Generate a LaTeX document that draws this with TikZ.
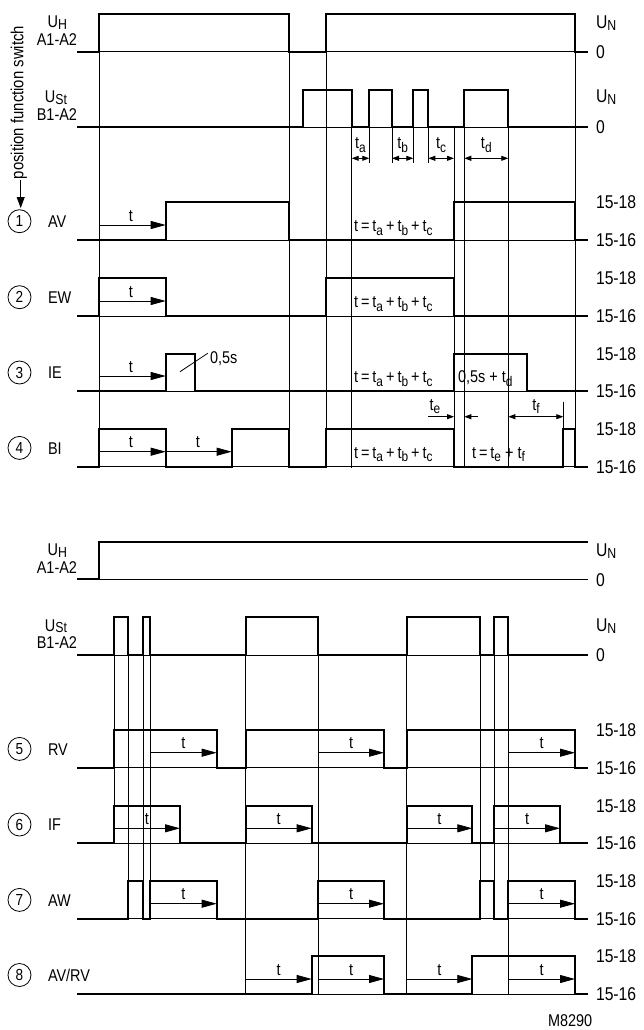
\documentclass[tikz,border=0pt]{standalone}
\usepackage{fontspec}
\setmainfont[FakeStretch=0.85]{Liberation Sans}
\usetikzlibrary{arrows.meta}
\newcommand\sbs[1]{\raisebox{-0.4ex}{\fontsize{14}{14}\selectfont #1}}
\newcommand\usb[1]{\raisebox{-0.2ex}{\fontsize{14.5}{14.5}\selectfont #1}}
\newcommand\tsum{t\hspace{3pt}=\hspace{3pt}t\sbs{a}\hspace{3pt}+\hspace{3pt}t\sbs{b}\hspace{3pt}+\hspace{3pt}t\sbs{c}}
\begin{document}
\begin{tikzpicture}[x=1pt,y=-1pt,
  every node/.style={inner sep=0pt, outer sep=0pt},
  sig/.style={line width=2pt, line join=miter},
  thn/.style={line width=0.8pt},
  tarr/.style={thn, -{Triangle[length=15pt,width=8pt]}},
  dimarr/.style={thn, {Triangle[length=7pt,width=5pt]}-{Triangle[length=7pt,width=5pt]}},
  sarr/.style={thn, -{Triangle[length=7pt,width=5pt]}},
  lab/.style={font=\fontsize{17}{17}\selectfont},
  rlab/.style={font=\fontsize{18.5}{18.5}\selectfont, anchor=base west},
  llab/.style={font=\fontsize{17}{17}\selectfont, anchor=base east},
  rowlab/.style={font=\fontsize{17}{17}\selectfont, anchor=base west},
  num/.style={draw, circle, line width=0.8pt, minimum size=23pt, font=\fontsize{16}{16}\selectfont},
  tl/.style={font=\fontsize{17}{17}\selectfont, anchor=base},
]
\useasboundingbox (0,0) rectangle (644,1030);

% ---------------- TOP SECTION ----------------
\foreach \x in {99.3,289.3,326,575} \draw[thn] (\x,51.7) -- (\x,468);
\foreach \x in {351.7,454,464.3,508.3} \draw[thn] (\x,127) -- (\x,468);
\foreach \x in {369.3,392,413.3,428.3} \draw[thn] (\x,127) -- (\x,163);
\draw[thn] (563.3,401.7) -- (563.3,429);

\foreach \y in {51.7,127,240,316,391,466.7} \draw[thn] (77,\y) -- (588,\y);

\draw[sig] (77,51.7) -- (99.3,51.7) -- (99.3,14.3) -- (289.3,14.3) -- (289.3,51.7) -- (326,51.7) -- (326,14.3) -- (575,14.3) -- (575,51.7) -- (588,51.7);
\draw[sig] (77,127) -- (303.3,127) -- (303.3,90) -- (351.7,90) -- (351.7,127) -- (369.3,127) -- (369.3,90) -- (392,90) -- (392,127) -- (413.3,127) -- (413.3,90) -- (428.3,90) -- (428.3,127) -- (464.3,127) -- (464.3,90) -- (508.3,90) -- (508.3,127) -- (588,127);
\draw[sig] (77,240) -- (165.7,240) -- (165.7,202.3) -- (289.3,202.3) -- (289.3,240) -- (454,240) -- (454,202.3) -- (575,202.3) -- (575,240) -- (588,240);
\draw[sig] (77,316) -- (99.3,316) -- (99.3,278.3) -- (165.7,278.3) -- (165.7,316) -- (326,316) -- (326,278.3) -- (454,278.3) -- (454,316) -- (588,316);
\draw[sig] (77,391) -- (165.7,391) -- (165.7,354) -- (195,354) -- (195,391) -- (454,391) -- (454,354) -- (526.7,354) -- (526.7,391) -- (588,391);
\draw[sig] (77,466.7) -- (99.3,466.7) -- (99.3,429) -- (165.7,429) -- (165.7,466.7) -- (231.7,466.7) -- (231.7,429) -- (289.3,429) -- (289.3,466.7) -- (326,466.7) -- (326,429) -- (454,429) -- (454,466.7) -- (563.3,466.7) -- (563.3,429) -- (575,429) -- (575,466.7) -- (588,466.7);

\node[llab] (uh1) at (67,27.5) {U\usb{H}};
\node[llab] (a1) at (77,45.5) {A1-A2};
\node[llab] (ust1) at (67,103) {U\usb{St}};
\node[llab] (b1) at (77,120.5) {B1-A2};

\node[font=\fontsize{17.5}{17.5}\selectfont, rotate=90, anchor=mid west] (pfs) at (20.7,179) {position function switch};
\draw[thn, -{Triangle[length=11pt,width=8pt]}] (20.7,180) -- (20.7,208);

\node[num] (n1) at (19.5,221.2) {1};
\node[num] (n2) at (19.5,297.2) {2};
\node[num] (n3) at (19.5,372.5) {3};
\node[num] (n4) at (19.5,447.9) {4};
\node[rowlab] (av) at (48,227.5) {AV};
\node[rowlab] (ew) at (48,303.5) {EW};
\node[rowlab] (ie) at (48,378.8) {IE};
\node[rowlab] (bi) at (48,454.2) {BI};

\node[rlab] (un1) at (596,28.3) {U\usb{N}};
\node[rlab] (z1) at (596,58.3) {0};
\node[rlab] (un2) at (596,102.6) {U\usb{N}};
\node[rlab] (z2) at (596,133.6) {0};
\foreach \h/\l [count=\i] in {202.3/240,278.3/316,354/391,429/466.7} {
  \node[rlab] (hi\i) at (596,\h+6.6) {15-18};
  \node[rlab] (lo\i) at (596,\l+6.6) {15-16};
}

\draw[dimarr] (351.7,158.3) -- (369.3,158.3);
\draw[dimarr] (392,158.3) -- (413.3,158.3);
\draw[dimarr] (428.3,158.3) -- (454,158.3);
\draw[dimarr] (464.3,158.3) -- (508.3,158.3);
\node[tl] (ta) at (360.5,149) {t\sbs{a}};
\node[tl] (tb) at (402.7,149) {t\sbs{b}};
\node[tl] (tc) at (441,149) {t\sbs{c}};
\node[tl] (td) at (486.3,149) {t\sbs{d}};

\draw[tarr] (99.3,225) -- (165.7,225);
\draw[tarr] (99.3,301) -- (165.7,301);
\draw[tarr] (99.3,376) -- (165.7,376);
\draw[tarr] (99.3,451.7) -- (165.7,451.7);
\draw[tarr] (165.7,451.7) -- (231.7,451.7);
\node[tl] (t1) at (131,221) {t};
\node[tl] (t2) at (131,297) {t};
\node[tl] (t3) at (131,372) {t};
\node[tl] (t4) at (131,447.7) {t};
\node[tl] (t5) at (198,447.7) {t};

\node[lab, anchor=base west] (s1) at (354,231.5) {\tsum};
\node[lab, anchor=base west] (s2) at (354,307.5) {\tsum};
\node[lab, anchor=base west] (s3) at (354,382.5) {\tsum};
\node[lab, anchor=base west] (s4) at (354,458.2) {\tsum};

\draw[thn] (180,371.7) -- (207.7,353.3);
\node[lab, anchor=base west] (hs) at (210,363) {0,5s};
\node[lab, anchor=base west] (hstd) at (458,382.5) {0,5s + t\sbs{d}};

\draw[sarr] (428,416.7) -- (454,416.7);
\draw[sarr] (478,416.7) -- (464.3,416.7);
\draw[dimarr] (508.3,416.7) -- (563.3,416.7);
\node[tl] (te) at (435,410) {t\sbs{e}};
\node[tl] (tf) at (536,410) {t\sbs{f}};
\node[lab, anchor=base west] (tef) at (472,458.2) {t\hspace{3pt}=\hspace{3pt}t\sbs{e} + t\sbs{f}};

% ---------------- BOTTOM SECTION ----------------
\draw[thn] (114,655) -- (114,843.3);
\foreach \x in {128.3,143.3,150,480,494} \draw[thn] (\x,655) -- (\x,918.7);
\foreach \x in {245.7,318.3,406.7,508.3} \draw[thn] (\x,655) -- (\x,994);

\foreach \y in {579.3,655,767.7,843.3,918.7,994} \draw[thn] (77,\y) -- (588,\y);

\draw[sig] (77,579.3) -- (99.3,579.3) -- (99.3,541.7) -- (588,541.7);
\draw[sig] (77,655) -- (114,655) -- (114,617.3) -- (128.3,617.3) -- (128.3,655) -- (143.3,655) -- (143.3,617.3) -- (150,617.3) -- (150,655) -- (245.7,655) -- (245.7,617.3) -- (318.3,617.3) -- (318.3,655) -- (406.7,655) -- (406.7,617.3) -- (480,617.3) -- (480,655) -- (494,655) -- (494,617.3) -- (508.3,617.3) -- (508.3,655) -- (588,655);
\draw[sig] (77,767.7) -- (114,767.7) -- (114,730) -- (216.7,730) -- (216.7,767.7) -- (245.7,767.7) -- (245.7,730) -- (384,730) -- (384,767.7) -- (406.7,767.7) -- (406.7,730) -- (575,730) -- (575,767.7) -- (588,767.7);
\draw[sig] (77,843.3) -- (114,843.3) -- (114,805.7) -- (180,805.7) -- (180,843.3) -- (245.7,843.3) -- (245.7,805.7) -- (311.7,805.7) -- (311.7,843.3) -- (406.7,843.3) -- (406.7,805.7) -- (472.3,805.7) -- (472.3,843.3) -- (494,843.3) -- (494,805.7) -- (560,805.7) -- (560,843.3) -- (588,843.3);
\draw[sig] (77,918.7) -- (128.3,918.7) -- (128.3,881) -- (143.3,881) -- (143.3,918.7) -- (150,918.7) -- (150,881) -- (216.7,881) -- (216.7,918.7) -- (318.3,918.7) -- (318.3,881) -- (384,881) -- (384,918.7) -- (480,918.7) -- (480,881) -- (494,881) -- (494,918.7) -- (508.3,918.7) -- (508.3,881) -- (575,881) -- (575,918.7) -- (588,918.7);
\draw[sig] (77,994) -- (311.7,994) -- (311.7,956) -- (384,956) -- (384,994) -- (472.3,994) -- (472.3,956) -- (575,956) -- (575,994) -- (588,994);

\node[llab] (uh2) at (67,555.3) {U\usb{H}};
\node[llab] (a2) at (77,573.3) {A1-A2};
\node[llab] (ust2) at (67,631) {U\usb{St}};
\node[llab] (b2) at (77,648.8) {B1-A2};

\node[rlab] (un3) at (596,556.6) {U\usb{N}};
\node[rlab] (z3) at (596,586) {0};
\node[rlab] (un4) at (596,631.6) {U\usb{N}};
\node[rlab] (z4) at (596,661.6) {0};
\foreach \h/\l [count=\i from 5] in {730/767.7,805.7/843.3,881/918.7,956/994} {
  \node[rlab] (hi\i) at (596,\h+6.6) {15-18};
  \node[rlab] (lo\i) at (596,\l+6.6) {15-16};
}

\node[num] (n5) at (19.5,748.9) {5};
\node[num] (n6) at (19.5,824.5) {6};
\node[num] (n7) at (19.5,899.9) {7};
\node[num] (n8) at (19.5,975) {8};
\node[rowlab] (rv) at (48,755.2) {RV};
\node[rowlab] (if) at (48,830.8) {IF};
\node[rowlab] (aw) at (48,906.2) {AW};
\node[rowlab] (avrv) at (48,981.3) {AV/RV};

\foreach \a/\b/\y [count=\i] in {150/216.7/752.7, 318.3/384/752.7, 508.3/575/752.7,
  114/180/828.3, 245.7/311.7/828.3, 406.7/472.3/828.3, 494/560/828.3,
  150/216.7/903.7, 318.3/384/903.7, 508.3/575/903.7,
  245.7/311.7/979, 318.3/384/979, 406.7/472.3/979, 508.3/575/979} {
  \draw[tarr] (\a,\y) -- (\b,\y);
  \node[tl] (bt\i) at ({(\a+\b)/2},\y-4) {t};
}

\node[lab, anchor=base west] (m) at (548,1026) {M8290};
\end{tikzpicture}
\end{document}
